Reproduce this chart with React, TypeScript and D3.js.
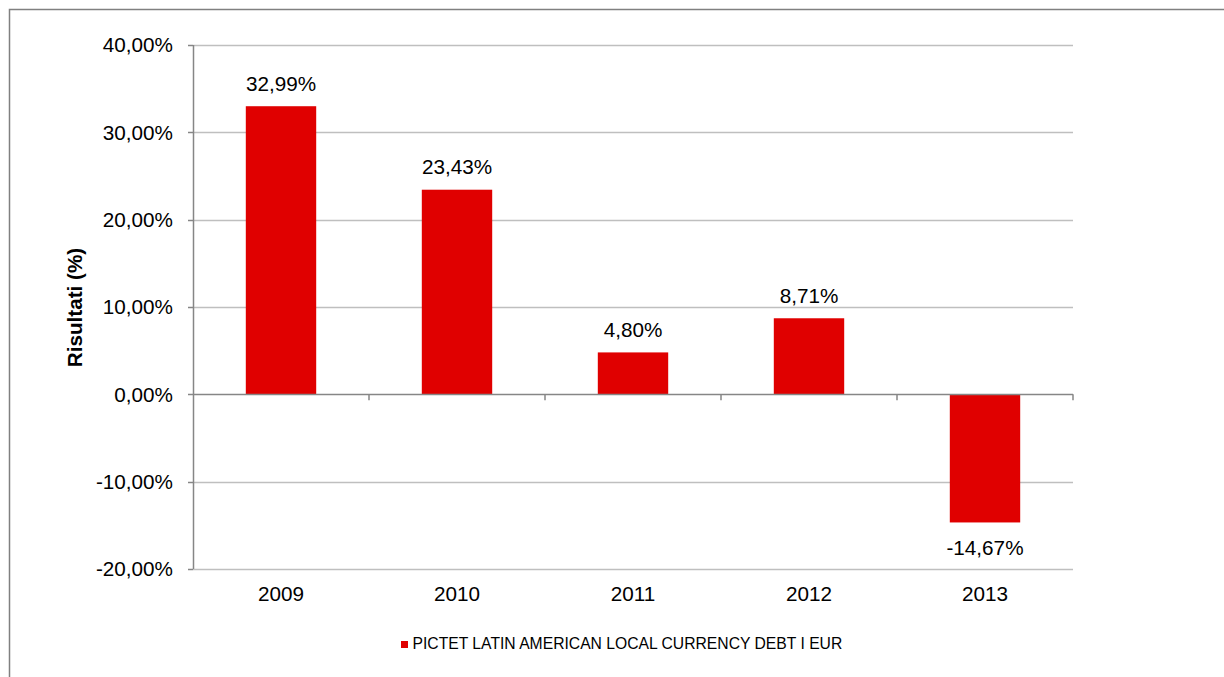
import React from "react";
import * as d3 from "d3";

const categories = ["2009", "2010", "2011", "2012", "2013"];
const values = [32.99, 23.43, 4.8, 8.71, -14.67];
const yTicks = [-20, -10, 0, 10, 20, 30, 40];
const seriesName = "PICTET LATIN AMERICAN LOCAL CURRENCY DEBT I EUR";
const axisTitle = "Risultati (%)";

const W = 1224;
const H = 677;
const left = 193;
const right = 1073;
const top = 45;
const bottom = 569;
const font = "'Liberation Sans', Arial, sans-serif";
const fs = 20.7;

const fmt = (v: number) => v.toFixed(2).replace(".", ",") + "%";

export default function App() {
  const x = d3.scaleBand<string>().domain(categories).range([left, right]).paddingInner(0.6).paddingOuter(0.3);
  const band = d3.scaleBand<string>().domain(categories).range([left, right]);
  const y = d3.scaleLinear().domain([-20, 40]).range([bottom, top]);
  const y0 = y(0);
  const bw = x.bandwidth();
  return (
    <svg width={W} height={H} style={{ position: "absolute", left: 0, top: 0, background: "#fff" }} fontFamily={font}>
      <rect x={9.5} y={9.5} width={W + 20} height={H + 20} fill="none" stroke="#808080" strokeWidth={1.5} />
      {yTicks.map((t) => (
        <g key={t}>
          {t !== 0 && <line x1={left} x2={right} y1={Math.round(y(t)) + 0.5} y2={Math.round(y(t)) + 0.5} stroke="#bfbfbf" strokeWidth={1.5} />}
          <line x1={left - 5} x2={left} y1={Math.round(y(t)) + 0.5} y2={Math.round(y(t)) + 0.5} stroke="#868686" strokeWidth={1.5} />
          <text x={173} y={y(t) + 7.3} textAnchor="end" fontSize={fs} fill="#000">{fmt(t)}</text>
        </g>
      ))}
      {values.map((v, i) => {
        const c = categories[i];
        const yt = y(Math.max(v, 0));
        const yb = y(Math.min(v, 0));
        return (
          <g key={c}>
            <rect x={x(c)} y={yt} width={bw} height={yb - yt} fill="#e00000" />
            <text x={x(c)! + bw / 2} y={v >= 0 ? yt - 15.7 : yb + 32.6} textAnchor="middle" fontSize={fs} fill="#000">{fmt(v)}</text>
            <text x={band(c)! + band.bandwidth() / 2} y={600.5} textAnchor="middle" fontSize={fs} fill="#000">{c}</text>
          </g>
        );
      })}
      <line x1={left + 0.5} x2={left + 0.5} y1={top} y2={bottom} stroke="#868686" strokeWidth={1.5} />
      <line x1={left} x2={right} y1={Math.round(y0) + 0.5} y2={Math.round(y0) + 0.5} stroke="#868686" strokeWidth={1.5} />
      {categories.map((c) => (
        <line key={c} x1={band(c)! + band.bandwidth()} x2={band(c)! + band.bandwidth()} y1={y0} y2={y0 + 6} stroke="#868686" strokeWidth={1.5} />
      ))}
      <text transform={`translate(82,307.5) rotate(-90)`} textAnchor="middle" fontSize={fs} fontWeight="bold" fill="#000">{axisTitle}</text>
      <rect x={401} y={641} width={7} height={7} fill="#e00000" />
      <text x={412.5} y={649} fontSize={15.7} fill="#000">{seriesName}</text>
    </svg>
  );
}
